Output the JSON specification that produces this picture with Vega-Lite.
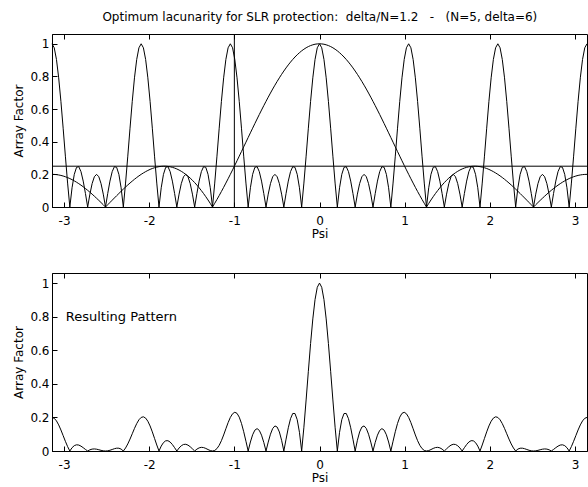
{
  "$schema": "https://vega.github.io/schema/vega-lite/v6.json",
  "padding": {"left": 12, "top": 11, "right": 0, "bottom": 0},
  "title": {"text": "Optimum lacunarity for SLR protection:\u00a0\u00a0delta/N=1.2\u00a0\u00a0\u00a0-\u00a0\u00a0\u00a0(N=5, delta=6)", "anchor": "start", "dx": 90, "fontSize": 12, "fontWeight": "normal", "color": "black", "font": "DejaVu Sans", "offset": 9},
  "config": {
    "font": "DejaVu Sans",
    "view": {"stroke": "black", "strokeWidth": 1},
    "axis": {"grid": false, "domainColor": "black", "tickColor": "black", "labelColor": "black", "titleColor": "black", "labelFontSize": 12, "titleFontSize": 12, "titleFontWeight": "normal", "tickSize": -5, "labelFont": "DejaVu Sans", "titleFont": "DejaVu Sans", "labelOverlap": false}
  },
  "spacing": 32,
  "datasets": {
    "d": [
      {"psi": -3.1416, "lac": 1, "elem": 0.2, "res": 0.2},
      {"psi": -3.1154, "lac": 0.9755, "elem": 0.1996, "res": 0.1947},
      {"psi": -3.0892, "lac": 0.904, "elem": 0.1984, "res": 0.1793},
      {"psi": -3.0631, "lac": 0.7915, "elem": 0.1963, "res": 0.1554},
      {"psi": -3.0369, "lac": 0.6472, "elem": 0.1935, "res": 0.1252},
      {"psi": -3.0107, "lac": 0.4828, "elem": 0.1898, "res": 0.0916},
      {"psi": -2.9845, "lac": 0.3115, "elem": 0.1854, "res": 0.0577},
      {"psi": -2.9583, "lac": 0.1465, "elem": 0.1801, "res": 0.0264},
      {"psi": -2.9322, "lac": 0, "elem": 0.1742, "res": 0},
      {"psi": -2.906, "lac": 0.1179, "elem": 0.1675, "res": 0.0197},
      {"psi": -2.8798, "lac": 0.2, "elem": 0.16, "res": 0.032},
      {"psi": -2.8536, "lac": 0.243, "elem": 0.1519, "res": 0.0369},
      {"psi": -2.8274, "lac": 0.2472, "elem": 0.1432, "res": 0.0354},
      {"psi": -2.8013, "lac": 0.2167, "elem": 0.1338, "res": 0.029},
      {"psi": -2.7751, "lac": 0.1587, "elem": 0.1238, "res": 0.0197},
      {"psi": -2.7489, "lac": 0.0828, "elem": 0.1133, "res": 0.0094},
      {"psi": -2.7227, "lac": 0, "elem": 0.1022, "res": 0},
      {"psi": -2.6965, "lac": 0.0787, "elem": 0.0907, "res": 0.0071},
      {"psi": -2.6704, "lac": 0.1432, "elem": 0.0787, "res": 0.0113},
      {"psi": -2.6442, "lac": 0.1854, "elem": 0.0663, "res": 0.0123},
      {"psi": -2.618, "lac": 0.2, "elem": 0.0536, "res": 0.0107},
      {"psi": -2.5918, "lac": 0.1854, "elem": 0.0405, "res": 0.0075},
      {"psi": -2.5656, "lac": 0.1432, "elem": 0.0272, "res": 0.0039},
      {"psi": -2.5395, "lac": 0.0787, "elem": 0.0137, "res": 0.0011},
      {"psi": -2.5133, "lac": 0, "elem": 0, "res": 0},
      {"psi": -2.4871, "lac": 0.0828, "elem": 0.0138, "res": 0.0011},
      {"psi": -2.4609, "lac": 0.1587, "elem": 0.0277, "res": 0.0044},
      {"psi": -2.4347, "lac": 0.2167, "elem": 0.0416, "res": 0.009},
      {"psi": -2.4086, "lac": 0.2472, "elem": 0.0555, "res": 0.0137},
      {"psi": -2.3824, "lac": 0.243, "elem": 0.0692, "res": 0.0168},
      {"psi": -2.3562, "lac": 0.2, "elem": 0.0828, "res": 0.0166},
      {"psi": -2.33, "lac": 0.1179, "elem": 0.0963, "res": 0.0114},
      {"psi": -2.3038, "lac": 0, "elem": 0.1095, "res": 0},
      {"psi": -2.2777, "lac": 0.1465, "elem": 0.1224, "res": 0.0179},
      {"psi": -2.2515, "lac": 0.3115, "elem": 0.1349, "res": 0.042},
      {"psi": -2.2253, "lac": 0.4828, "elem": 0.147, "res": 0.071},
      {"psi": -2.1991, "lac": 0.6472, "elem": 0.1587, "res": 0.1027},
      {"psi": -2.1729, "lac": 0.7915, "elem": 0.1699, "res": 0.1345},
      {"psi": -2.1468, "lac": 0.904, "elem": 0.1806, "res": 0.1632},
      {"psi": -2.1206, "lac": 0.9755, "elem": 0.1906, "res": 0.1859},
      {"psi": -2.0944, "lac": 1, "elem": 0.2, "res": 0.2},
      {"psi": -2.0682, "lac": 0.9755, "elem": 0.2087, "res": 0.2036},
      {"psi": -2.042, "lac": 0.904, "elem": 0.2167, "res": 0.1959},
      {"psi": -2.0159, "lac": 0.7915, "elem": 0.2239, "res": 0.1772},
      {"psi": -1.9897, "lac": 0.6472, "elem": 0.2304, "res": 0.1491},
      {"psi": -1.9635, "lac": 0.4828, "elem": 0.2359, "res": 0.1139},
      {"psi": -1.9373, "lac": 0.3115, "elem": 0.2406, "res": 0.075},
      {"psi": -1.9111, "lac": 0.1465, "elem": 0.2444, "res": 0.0358},
      {"psi": -1.885, "lac": 0, "elem": 0.2472, "res": 0},
      {"psi": -1.8588, "lac": 0.1179, "elem": 0.2491, "res": 0.0294},
      {"psi": -1.8326, "lac": 0.2, "elem": 0.2499, "res": 0.05},
      {"psi": -1.8064, "lac": 0.243, "elem": 0.2498, "res": 0.0607},
      {"psi": -1.7802, "lac": 0.2472, "elem": 0.2486, "res": 0.0615},
      {"psi": -1.7541, "lac": 0.2167, "elem": 0.2463, "res": 0.0534},
      {"psi": -1.7279, "lac": 0.1587, "elem": 0.243, "res": 0.0386},
      {"psi": -1.7017, "lac": 0.0828, "elem": 0.2386, "res": 0.0198},
      {"psi": -1.6755, "lac": 0, "elem": 0.2331, "res": 0},
      {"psi": -1.6493, "lac": 0.0787, "elem": 0.2265, "res": 0.0178},
      {"psi": -1.6232, "lac": 0.1432, "elem": 0.2187, "res": 0.0313},
      {"psi": -1.597, "lac": 0.1854, "elem": 0.2099, "res": 0.0389},
      {"psi": -1.5708, "lac": 0.2, "elem": 0.2, "res": 0.04},
      {"psi": -1.5446, "lac": 0.1854, "elem": 0.189, "res": 0.035},
      {"psi": -1.5184, "lac": 0.1432, "elem": 0.1769, "res": 0.0253},
      {"psi": -1.4923, "lac": 0.0787, "elem": 0.1637, "res": 0.0129},
      {"psi": -1.4661, "lac": 0, "elem": 0.1495, "res": 0},
      {"psi": -1.4399, "lac": 0.0828, "elem": 0.1342, "res": 0.0111},
      {"psi": -1.4137, "lac": 0.1587, "elem": 0.1179, "res": 0.0187},
      {"psi": -1.3875, "lac": 0.2167, "elem": 0.1005, "res": 0.0218},
      {"psi": -1.3614, "lac": 0.2472, "elem": 0.0823, "res": 0.0203},
      {"psi": -1.3352, "lac": 0.243, "elem": 0.063, "res": 0.0153},
      {"psi": -1.309, "lac": 0.2, "elem": 0.0429, "res": 0.0086},
      {"psi": -1.2828, "lac": 0.1179, "elem": 0.0219, "res": 0.0026},
      {"psi": -1.2566, "lac": 0, "elem": 0, "res": 0},
      {"psi": -1.2305, "lac": 0.1465, "elem": 0.0227, "res": 0.0033},
      {"psi": -1.2043, "lac": 0.3115, "elem": 0.0461, "res": 0.0144},
      {"psi": -1.1781, "lac": 0.4828, "elem": 0.0702, "res": 0.0339},
      {"psi": -1.1519, "lac": 0.6472, "elem": 0.095, "res": 0.0615},
      {"psi": -1.1257, "lac": 0.7915, "elem": 0.1205, "res": 0.0954},
      {"psi": -1.0996, "lac": 0.904, "elem": 0.1465, "res": 0.1324},
      {"psi": -1.0734, "lac": 0.9755, "elem": 0.173, "res": 0.1688},
      {"psi": -1.0472, "lac": 1, "elem": 0.2, "res": 0.2},
      {"psi": -1.021, "lac": 0.9755, "elem": 0.2274, "res": 0.2218},
      {"psi": -0.9948, "lac": 0.904, "elem": 0.2552, "res": 0.2307},
      {"psi": -0.9687, "lac": 0.7915, "elem": 0.2832, "res": 0.2242},
      {"psi": -0.9425, "lac": 0.6472, "elem": 0.3115, "res": 0.2016},
      {"psi": -0.9163, "lac": 0.4828, "elem": 0.34, "res": 0.1642},
      {"psi": -0.8901, "lac": 0.3115, "elem": 0.3686, "res": 0.1148},
      {"psi": -0.8639, "lac": 0.1465, "elem": 0.3972, "res": 0.0582},
      {"psi": -0.8378, "lac": 0, "elem": 0.4258, "res": 0},
      {"psi": -0.8116, "lac": 0.1179, "elem": 0.4544, "res": 0.0536},
      {"psi": -0.7854, "lac": 0.2, "elem": 0.4828, "res": 0.0966},
      {"psi": -0.7592, "lac": 0.243, "elem": 0.5111, "res": 0.1242},
      {"psi": -0.733, "lac": 0.2472, "elem": 0.5391, "res": 0.1333},
      {"psi": -0.7069, "lac": 0.2167, "elem": 0.5667, "res": 0.1228},
      {"psi": -0.6807, "lac": 0.1587, "elem": 0.594, "res": 0.0943},
      {"psi": -0.6545, "lac": 0.0828, "elem": 0.6209, "res": 0.0514},
      {"psi": -0.6283, "lac": 0, "elem": 0.6472, "res": 0},
      {"psi": -0.6021, "lac": 0.0787, "elem": 0.673, "res": 0.053},
      {"psi": -0.576, "lac": 0.1432, "elem": 0.6982, "res": 0.1},
      {"psi": -0.5498, "lac": 0.1854, "elem": 0.7227, "res": 0.1339},
      {"psi": -0.5236, "lac": 0.2, "elem": 0.7464, "res": 0.1493},
      {"psi": -0.4974, "lac": 0.1854, "elem": 0.7694, "res": 0.1426},
      {"psi": -0.4712, "lac": 0.1432, "elem": 0.7915, "res": 0.1133},
      {"psi": -0.4451, "lac": 0.0787, "elem": 0.8128, "res": 0.064},
      {"psi": -0.4189, "lac": 0, "elem": 0.8331, "res": 0},
      {"psi": -0.3927, "lac": 0.0828, "elem": 0.8524, "res": 0.0706},
      {"psi": -0.3665, "lac": 0.1587, "elem": 0.8707, "res": 0.1382},
      {"psi": -0.3403, "lac": 0.2167, "elem": 0.8879, "res": 0.1924},
      {"psi": -0.3142, "lac": 0.2472, "elem": 0.904, "res": 0.2235},
      {"psi": -0.288, "lac": 0.243, "elem": 0.919, "res": 0.2233},
      {"psi": -0.2618, "lac": 0.2, "elem": 0.9328, "res": 0.1866},
      {"psi": -0.2356, "lac": 0.1179, "elem": 0.9454, "res": 0.1114},
      {"psi": -0.2094, "lac": 0, "elem": 0.9567, "res": 0},
      {"psi": -0.1833, "lac": 0.1465, "elem": 0.9667, "res": 0.1416},
      {"psi": -0.1571, "lac": 0.3115, "elem": 0.9755, "res": 0.3039},
      {"psi": -0.1309, "lac": 0.4828, "elem": 0.983, "res": 0.4746},
      {"psi": -0.1047, "lac": 0.6472, "elem": 0.9891, "res": 0.6401},
      {"psi": -0.0785, "lac": 0.7915, "elem": 0.9938, "res": 0.7866},
      {"psi": -0.0524, "lac": 0.904, "elem": 0.9973, "res": 0.9016},
      {"psi": -0.0262, "lac": 0.9755, "elem": 0.9993, "res": 0.9748},
      {"psi": 0, "lac": 1, "elem": 1, "res": 1},
      {"psi": 0.0262, "lac": 0.9755, "elem": 0.9993, "res": 0.9748},
      {"psi": 0.0524, "lac": 0.904, "elem": 0.9973, "res": 0.9016},
      {"psi": 0.0785, "lac": 0.7915, "elem": 0.9938, "res": 0.7866},
      {"psi": 0.1047, "lac": 0.6472, "elem": 0.9891, "res": 0.6401},
      {"psi": 0.1309, "lac": 0.4828, "elem": 0.983, "res": 0.4746},
      {"psi": 0.1571, "lac": 0.3115, "elem": 0.9755, "res": 0.3039},
      {"psi": 0.1833, "lac": 0.1465, "elem": 0.9667, "res": 0.1416},
      {"psi": 0.2094, "lac": 0, "elem": 0.9567, "res": 0},
      {"psi": 0.2356, "lac": 0.1179, "elem": 0.9454, "res": 0.1114},
      {"psi": 0.2618, "lac": 0.2, "elem": 0.9328, "res": 0.1866},
      {"psi": 0.288, "lac": 0.243, "elem": 0.919, "res": 0.2233},
      {"psi": 0.3142, "lac": 0.2472, "elem": 0.904, "res": 0.2235},
      {"psi": 0.3403, "lac": 0.2167, "elem": 0.8879, "res": 0.1924},
      {"psi": 0.3665, "lac": 0.1587, "elem": 0.8707, "res": 0.1382},
      {"psi": 0.3927, "lac": 0.0828, "elem": 0.8524, "res": 0.0706},
      {"psi": 0.4189, "lac": 0, "elem": 0.8331, "res": 0},
      {"psi": 0.4451, "lac": 0.0787, "elem": 0.8128, "res": 0.064},
      {"psi": 0.4712, "lac": 0.1432, "elem": 0.7915, "res": 0.1133},
      {"psi": 0.4974, "lac": 0.1854, "elem": 0.7694, "res": 0.1426},
      {"psi": 0.5236, "lac": 0.2, "elem": 0.7464, "res": 0.1493},
      {"psi": 0.5498, "lac": 0.1854, "elem": 0.7227, "res": 0.1339},
      {"psi": 0.576, "lac": 0.1432, "elem": 0.6982, "res": 0.1},
      {"psi": 0.6021, "lac": 0.0787, "elem": 0.673, "res": 0.053},
      {"psi": 0.6283, "lac": 0, "elem": 0.6472, "res": 0},
      {"psi": 0.6545, "lac": 0.0828, "elem": 0.6209, "res": 0.0514},
      {"psi": 0.6807, "lac": 0.1587, "elem": 0.594, "res": 0.0943},
      {"psi": 0.7069, "lac": 0.2167, "elem": 0.5667, "res": 0.1228},
      {"psi": 0.733, "lac": 0.2472, "elem": 0.5391, "res": 0.1333},
      {"psi": 0.7592, "lac": 0.243, "elem": 0.5111, "res": 0.1242},
      {"psi": 0.7854, "lac": 0.2, "elem": 0.4828, "res": 0.0966},
      {"psi": 0.8116, "lac": 0.1179, "elem": 0.4544, "res": 0.0536},
      {"psi": 0.8378, "lac": 0, "elem": 0.4258, "res": 0},
      {"psi": 0.8639, "lac": 0.1465, "elem": 0.3972, "res": 0.0582},
      {"psi": 0.8901, "lac": 0.3115, "elem": 0.3686, "res": 0.1148},
      {"psi": 0.9163, "lac": 0.4828, "elem": 0.34, "res": 0.1642},
      {"psi": 0.9425, "lac": 0.6472, "elem": 0.3115, "res": 0.2016},
      {"psi": 0.9687, "lac": 0.7915, "elem": 0.2832, "res": 0.2242},
      {"psi": 0.9948, "lac": 0.904, "elem": 0.2552, "res": 0.2307},
      {"psi": 1.021, "lac": 0.9755, "elem": 0.2274, "res": 0.2218},
      {"psi": 1.0472, "lac": 1, "elem": 0.2, "res": 0.2},
      {"psi": 1.0734, "lac": 0.9755, "elem": 0.173, "res": 0.1688},
      {"psi": 1.0996, "lac": 0.904, "elem": 0.1465, "res": 0.1324},
      {"psi": 1.1257, "lac": 0.7915, "elem": 0.1205, "res": 0.0954},
      {"psi": 1.1519, "lac": 0.6472, "elem": 0.095, "res": 0.0615},
      {"psi": 1.1781, "lac": 0.4828, "elem": 0.0702, "res": 0.0339},
      {"psi": 1.2043, "lac": 0.3115, "elem": 0.0461, "res": 0.0144},
      {"psi": 1.2305, "lac": 0.1465, "elem": 0.0227, "res": 0.0033},
      {"psi": 1.2566, "lac": 0, "elem": 0, "res": 0},
      {"psi": 1.2828, "lac": 0.1179, "elem": 0.0219, "res": 0.0026},
      {"psi": 1.309, "lac": 0.2, "elem": 0.0429, "res": 0.0086},
      {"psi": 1.3352, "lac": 0.243, "elem": 0.063, "res": 0.0153},
      {"psi": 1.3614, "lac": 0.2472, "elem": 0.0823, "res": 0.0203},
      {"psi": 1.3875, "lac": 0.2167, "elem": 0.1005, "res": 0.0218},
      {"psi": 1.4137, "lac": 0.1587, "elem": 0.1179, "res": 0.0187},
      {"psi": 1.4399, "lac": 0.0828, "elem": 0.1342, "res": 0.0111},
      {"psi": 1.4661, "lac": 0, "elem": 0.1495, "res": 0},
      {"psi": 1.4923, "lac": 0.0787, "elem": 0.1637, "res": 0.0129},
      {"psi": 1.5184, "lac": 0.1432, "elem": 0.1769, "res": 0.0253},
      {"psi": 1.5446, "lac": 0.1854, "elem": 0.189, "res": 0.035},
      {"psi": 1.5708, "lac": 0.2, "elem": 0.2, "res": 0.04},
      {"psi": 1.597, "lac": 0.1854, "elem": 0.2099, "res": 0.0389},
      {"psi": 1.6232, "lac": 0.1432, "elem": 0.2187, "res": 0.0313},
      {"psi": 1.6493, "lac": 0.0787, "elem": 0.2265, "res": 0.0178},
      {"psi": 1.6755, "lac": 0, "elem": 0.2331, "res": 0},
      {"psi": 1.7017, "lac": 0.0828, "elem": 0.2386, "res": 0.0198},
      {"psi": 1.7279, "lac": 0.1587, "elem": 0.243, "res": 0.0386},
      {"psi": 1.7541, "lac": 0.2167, "elem": 0.2463, "res": 0.0534},
      {"psi": 1.7802, "lac": 0.2472, "elem": 0.2486, "res": 0.0615},
      {"psi": 1.8064, "lac": 0.243, "elem": 0.2498, "res": 0.0607},
      {"psi": 1.8326, "lac": 0.2, "elem": 0.2499, "res": 0.05},
      {"psi": 1.8588, "lac": 0.1179, "elem": 0.2491, "res": 0.0294},
      {"psi": 1.885, "lac": 0, "elem": 0.2472, "res": 0},
      {"psi": 1.9111, "lac": 0.1465, "elem": 0.2444, "res": 0.0358},
      {"psi": 1.9373, "lac": 0.3115, "elem": 0.2406, "res": 0.075},
      {"psi": 1.9635, "lac": 0.4828, "elem": 0.2359, "res": 0.1139},
      {"psi": 1.9897, "lac": 0.6472, "elem": 0.2304, "res": 0.1491},
      {"psi": 2.0159, "lac": 0.7915, "elem": 0.2239, "res": 0.1772},
      {"psi": 2.042, "lac": 0.904, "elem": 0.2167, "res": 0.1959},
      {"psi": 2.0682, "lac": 0.9755, "elem": 0.2087, "res": 0.2036},
      {"psi": 2.0944, "lac": 1, "elem": 0.2, "res": 0.2},
      {"psi": 2.1206, "lac": 0.9755, "elem": 0.1906, "res": 0.1859},
      {"psi": 2.1468, "lac": 0.904, "elem": 0.1806, "res": 0.1632},
      {"psi": 2.1729, "lac": 0.7915, "elem": 0.1699, "res": 0.1345},
      {"psi": 2.1991, "lac": 0.6472, "elem": 0.1587, "res": 0.1027},
      {"psi": 2.2253, "lac": 0.4828, "elem": 0.147, "res": 0.071},
      {"psi": 2.2515, "lac": 0.3115, "elem": 0.1349, "res": 0.042},
      {"psi": 2.2777, "lac": 0.1465, "elem": 0.1224, "res": 0.0179},
      {"psi": 2.3038, "lac": 0, "elem": 0.1095, "res": 0},
      {"psi": 2.33, "lac": 0.1179, "elem": 0.0963, "res": 0.0114},
      {"psi": 2.3562, "lac": 0.2, "elem": 0.0828, "res": 0.0166},
      {"psi": 2.3824, "lac": 0.243, "elem": 0.0692, "res": 0.0168},
      {"psi": 2.4086, "lac": 0.2472, "elem": 0.0555, "res": 0.0137},
      {"psi": 2.4347, "lac": 0.2167, "elem": 0.0416, "res": 0.009},
      {"psi": 2.4609, "lac": 0.1587, "elem": 0.0277, "res": 0.0044},
      {"psi": 2.4871, "lac": 0.0828, "elem": 0.0138, "res": 0.0011},
      {"psi": 2.5133, "lac": 0, "elem": 0, "res": 0},
      {"psi": 2.5395, "lac": 0.0787, "elem": 0.0137, "res": 0.0011},
      {"psi": 2.5656, "lac": 0.1432, "elem": 0.0272, "res": 0.0039},
      {"psi": 2.5918, "lac": 0.1854, "elem": 0.0405, "res": 0.0075},
      {"psi": 2.618, "lac": 0.2, "elem": 0.0536, "res": 0.0107},
      {"psi": 2.6442, "lac": 0.1854, "elem": 0.0663, "res": 0.0123},
      {"psi": 2.6704, "lac": 0.1432, "elem": 0.0787, "res": 0.0113},
      {"psi": 2.6965, "lac": 0.0787, "elem": 0.0907, "res": 0.0071},
      {"psi": 2.7227, "lac": 0, "elem": 0.1022, "res": 0},
      {"psi": 2.7489, "lac": 0.0828, "elem": 0.1133, "res": 0.0094},
      {"psi": 2.7751, "lac": 0.1587, "elem": 0.1238, "res": 0.0197},
      {"psi": 2.8013, "lac": 0.2167, "elem": 0.1338, "res": 0.029},
      {"psi": 2.8274, "lac": 0.2472, "elem": 0.1432, "res": 0.0354},
      {"psi": 2.8536, "lac": 0.243, "elem": 0.1519, "res": 0.0369},
      {"psi": 2.8798, "lac": 0.2, "elem": 0.16, "res": 0.032},
      {"psi": 2.906, "lac": 0.1179, "elem": 0.1675, "res": 0.0197},
      {"psi": 2.9322, "lac": 0, "elem": 0.1742, "res": 0},
      {"psi": 2.9583, "lac": 0.1465, "elem": 0.1801, "res": 0.0264},
      {"psi": 2.9845, "lac": 0.3115, "elem": 0.1854, "res": 0.0577},
      {"psi": 3.0107, "lac": 0.4828, "elem": 0.1898, "res": 0.0916},
      {"psi": 3.0369, "lac": 0.6472, "elem": 0.1935, "res": 0.1252},
      {"psi": 3.0631, "lac": 0.7915, "elem": 0.1963, "res": 0.1554},
      {"psi": 3.0892, "lac": 0.904, "elem": 0.1984, "res": 0.1793},
      {"psi": 3.1154, "lac": 0.9755, "elem": 0.1996, "res": 0.1947},
      {"psi": 3.1416, "lac": 1, "elem": 0.2, "res": 0.2}
    ]
  },
  "data": {"name": "d"},
  "vconcat": [
    {
      "width": 535,
      "height": 173,
      "layer": [
        {
          "mark": {"type": "line", "color": "black", "strokeWidth": 1},
          "encoding": {
            "x": {"field": "psi", "type": "quantitative", "scale": {"domain": [-3.1416, 3.1416], "nice": false, "zero": false},
                  "axis": {"orient": "bottom", "title": "Psi", "values": [-3, -2, -1, 0, 1, 2, 3], "labelExpr": "'' + datum.value", "labelPadding": 13, "titlePadding": 2, "labelOverlap": false}},
            "y": {"field": "lac", "type": "quantitative", "scale": {"domain": [0, 1.06], "nice": false},
                  "axis": {"orient": "left", "title": "Array Factor", "values": [0, 0.2, 0.4, 0.6, 0.8, 1], "format": ".1~f", "labelPadding": 8, "titlePadding": 4, "labelOverlap": false}}
          }
        },
        {
          "mark": {"type": "line", "color": "black", "strokeWidth": 1},
          "encoding": {
            "x": {"field": "psi", "type": "quantitative", "axis": {"orient": "top", "title": null, "labels": false, "domain": false, "values": [-3, -2, -1, 0, 1, 2, 3]}},
            "y": {"field": "elem", "type": "quantitative",
                  "axis": {"orient": "left", "title": "Array Factor", "values": [0, 0.2, 0.4, 0.6, 0.8, 1], "format": ".1~f", "labelPadding": 8, "titlePadding": 4, "labelOverlap": false}}
          }
        },
        {
          "data": {"values": [{"level": 0.25}]},
          "mark": {"type": "rule", "color": "black", "strokeWidth": 1},
          "encoding": {"y": {"field": "level", "type": "quantitative",
                  "axis": {"orient": "left", "title": "Array Factor", "values": [0, 0.2, 0.4, 0.6, 0.8, 1], "format": ".1~f", "labelPadding": 8, "titlePadding": 4, "labelOverlap": false}}}
        },
        {
          "data": {"values": [{"pos": -1}]},
          "mark": {"type": "rule", "color": "black", "strokeWidth": 1},
          "encoding": {"x": {"field": "pos", "type": "quantitative", "axis": null}}
        }
      ]
    },
    {
      "width": 535,
      "height": 178,
      "layer": [
        {
          "mark": {"type": "line", "color": "black", "strokeWidth": 1},
          "encoding": {
            "x": {"field": "psi", "type": "quantitative", "scale": {"domain": [-3.1416, 3.1416], "nice": false, "zero": false},
                  "axis": {"orient": "bottom", "title": "Psi", "values": [-3, -2, -1, 0, 1, 2, 3], "labelExpr": "'' + datum.value", "labelPadding": 13, "titlePadding": 2, "labelOverlap": false}},
            "y": {"field": "res", "type": "quantitative", "scale": {"domain": [0, 1.06], "nice": false},
                  "axis": {"orient": "left", "title": "Array Factor", "values": [0, 0.2, 0.4, 0.6, 0.8, 1], "format": ".1~f", "labelPadding": 8, "titlePadding": 4, "labelOverlap": false}}
          }
        },
        {
          "data": {"values": [{"label": "Resulting Pattern", "px": -2.98, "py": 0.8}]},
          "mark": {"type": "text", "align": "left", "baseline": "middle", "fontSize": 13, "color": "black", "font": "DejaVu Sans"},
          "encoding": {
            "x": {"field": "px", "type": "quantitative", "axis": {"orient": "top", "title": null, "labels": false, "domain": false, "values": [-3, -2, -1, 0, 1, 2, 3]}},
            "y": {"field": "py", "type": "quantitative",
                  "axis": {"orient": "left", "title": "Array Factor", "values": [0, 0.2, 0.4, 0.6, 0.8, 1], "format": ".1~f", "labelPadding": 8, "titlePadding": 4, "labelOverlap": false}},
            "text": {"field": "label"}
          }
        }
      ]
    }
  ]
}
